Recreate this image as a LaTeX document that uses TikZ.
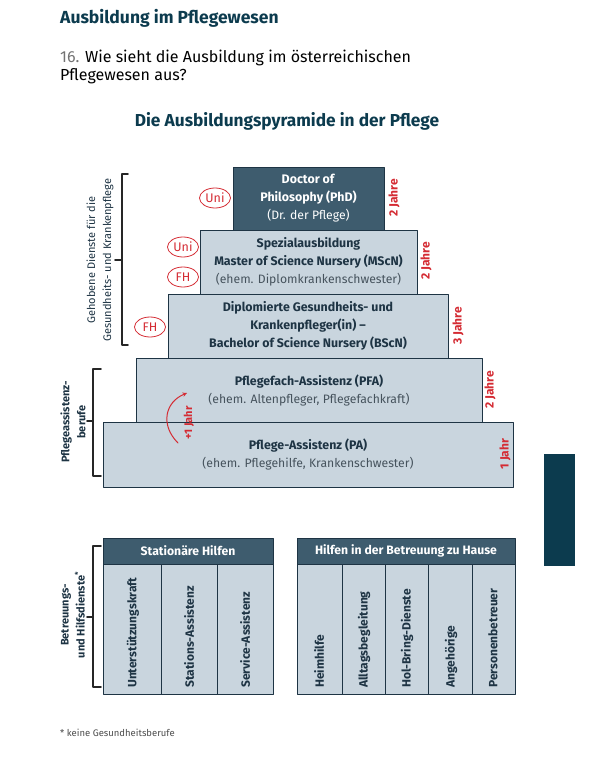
\documentclass[tikz,border=0pt]{standalone}
\usepackage{fontspec}
\setmainfont{Fira Sans}
\usetikzlibrary{shapes.geometric}
\definecolor{titleblue}{HTML}{0C3B4E}
\definecolor{headfill}{HTML}{3E5C6E}
\definecolor{palefill}{HTML}{C9D5DE}
\definecolor{edgeblue}{HTML}{1E3444}
\definecolor{markred}{HTML}{D42B33}
\definecolor{softgray}{HTML}{46535D}

\tikzset{
  stage/.style={draw=edgeblue,fill=palefill,line width=0.9pt,inner sep=0pt,align=center,
    text=edgeblue,font=\fontsize{12.4}{18}\selectfont},
  badge/.style={draw=markred,ellipse,line width=0.8pt,text=markred,inner sep=0pt,
    minimum width=31pt,minimum height=20pt,font=\fontsize{12.5}{13}\selectfont},
  years/.style={rotate=90,text=markred,inner sep=0pt,font=\bfseries\fontsize{12}{12}\selectfont},
  sidelabel/.style={rotate=90,align=center,text=edgeblue,inner sep=0pt,font=\fontsize{11}{16}\selectfont},
  bracket/.style={line width=1.6pt,draw=black!85},
  headbox/.style={draw=edgeblue,fill=headfill,line width=0.9pt,inner sep=0pt,text=white,
    font=\bfseries\fontsize{12.2}{12}\selectfont},
  colbox/.style={draw=edgeblue,fill=palefill,line width=0.9pt,inner sep=0pt,
    minimum height=130pt},
  coltext/.style={rotate=90,anchor=west,inner sep=0pt,text=edgeblue,
    font=\bfseries\fontsize{12}{12}\selectfont}
}
\newcommand{\oldname}[1]{{\fontsize{12.2}{18}\selectfont\color{softgray}#1}}

\begin{document}
\begin{tikzpicture}[x=1pt,y=-1pt,line cap=round,line join=round]
  \useasboundingbox (0,0) rectangle (589,762);
  % page head
  \node[anchor=base west,inner sep=0pt,text=titleblue,font=\bfseries\fontsize{17.5}{20}\selectfont]
    (title) at (60,24) {Ausbildung im Pflegewesen};
  \node[anchor=base west,inner sep=0pt,font=\fontsize{16}{18}\selectfont]
    (ask1) at (60,63) {{\color{black!55}16.} Wie sieht die Ausbildung im österreichischen};
  \node[anchor=base west,inner sep=0pt,font=\fontsize{16}{18}\selectfont]
    (ask2) at (60,81) {Pflegewesen aus?};
  \node[anchor=base,inner sep=0pt,text=titleblue,font=\bfseries\fontsize{17.3}{20}\selectfont]
    (head) at (287,127) {Die Ausbildungspyramide in der Pflege};

  % pyramid
  \node[stage,minimum width=410pt,minimum height=65pt] (pa) at (308,454.5)
    {\textbf{Pflege-Assistenz (PA)}\\\oldname{(ehem. Pflegehilfe, Krankenschwester)}};
  \node[stage,minimum width=346pt,minimum height=64pt] (pfa) at (309,390)
    {\textbf{Pflegefach-Assistenz (PFA)}\\\oldname{(ehem. Altenpfleger, Pflegefachkraft)}};
  \node[stage,minimum width=280pt,minimum height=64pt] (bsc) at (308,326)
    {\textbf{Diplomierte Gesundheits- und}\\\textbf{Krankenpfleger(in) --}\\\textbf{Bachelor of Science Nursery (BScN)}};
  \node[stage,minimum width=217pt,minimum height=64pt] (msc) at (308.5,262)
    {\textbf{Spezialausbildung}\\\textbf{Master of Science Nursery (MScN)}\\\oldname{(ehem. Diplomkrankenschwester)}};
  \node[stage,fill=headfill,text=white,minimum width=151pt,minimum height=63pt] (phd) at (308.5,198.5)
    {\textbf{Doctor of}\\\textbf{Philosophy (PhD)}\\{\fontsize{12.2}{18}\selectfont(Dr. der Pflege)}};

  \node[badge] (uni1) at (215,198) {Uni};
  \node[badge] (uni2) at (183,247) {Uni};
  \node[badge] (fh1) at (183,277) {FH};
  \node[badge] (fh2) at (150,327) {FH};

  \node[years] (y1) at (394,198) {2 Jahre};
  \node[years] (y2) at (426,261) {2 Jahre};
  \node[years] (y3) at (458,326) {3 Jahre};
  \node[years] (y4) at (490,390) {2 Jahre};
  \node[years] (y5) at (505,454) {1 Jahr};

  \coordinate (up0) at (178,443);
  \coordinate (up1) at (187,393);
  \draw[markred,line width=1pt,->,>=stealth] (up0) .. controls (160,425) and (165,402) .. (up1);
  \node[years,font=\bfseries\fontsize{11}{12}\selectfont] (plus) at (189,423) {+1 Jahr};

  % brackets
  \draw[bracket] (128,174) -- (122,174) -- (122,345) -- (128,345);
  \draw[bracket] (122,260) -- (115,260);
  \node[sidelabel] (gehoben) at (100,260) {Gehobene Dienste für die\\Gesundheits- und Krankenpflege};
  \draw[bracket] (101,369) -- (93,369) -- (93,476) -- (101,476);
  \draw[bracket] (93,421) -- (87,421);
  \node[sidelabel,font=\bfseries\fontsize{11}{16}\selectfont] (assist) at (73,422) {Pflegeassistenz-\\berufe};
  \draw[bracket] (101,546) -- (93,546) -- (93,687) -- (101,687);
  \draw[bracket] (93,617) -- (87,617);
  \node[sidelabel,font=\bfseries\fontsize{11}{16}\selectfont] (betreu) at (73,615) {Betreuungs-\\und Hilfsdienste\textsuperscript{*}};

  % stationary help
  \node[headbox,minimum width=170pt,minimum height=26pt] (stat) at (188,551) {Stationäre Hilfen};
  \node[colbox,minimum width=58pt] (s1) at (132,629) {};
  \node[colbox,minimum width=56pt] (s2) at (189,629) {};
  \node[colbox,minimum width=56pt] (s3) at (245,629) {};
  \node[coltext] (s1t) at (133,688) {Unterstützungskraft};
  \node[coltext] (s2t) at (189,688) {Stations-Assistenz};
  \node[coltext] (s3t) at (245,688) {Service-Assistenz};

  % help at home
  \node[headbox,minimum width=218pt,minimum height=26pt] (home) at (406,551) {Hilfen in der Betreuung zu Hause};
  \node[colbox,minimum width=45pt] (h1) at (319.5,629) {};
  \node[colbox,minimum width=43pt] (h2) at (363.5,629) {};
  \node[colbox,minimum width=43pt] (h3) at (406.5,629) {};
  \node[colbox,minimum width=44pt] (h4) at (450,629) {};
  \node[colbox,minimum width=43pt] (h5) at (493.5,629) {};
  \node[coltext] (h1t) at (319,688) {Heimhilfe};
  \node[coltext] (h2t) at (364,688) {Alltagsbegleitung};
  \node[coltext] (h3t) at (407,688) {Hol-Bring-Dienste};
  \node[coltext] (h4t) at (451,688) {Angehörige};
  \node[coltext] (h5t) at (493,688) {Personenbetreuer};

  % footnote and page tab
  \node[anchor=base west,inner sep=0pt,text=black!70,font=\fontsize{9.5}{11}\selectfont]
    (note) at (60,736) {* keine Gesundheitsberufe};
  \fill[titleblue] (544,454) rectangle (575,566);
\end{tikzpicture}
\end{document}
